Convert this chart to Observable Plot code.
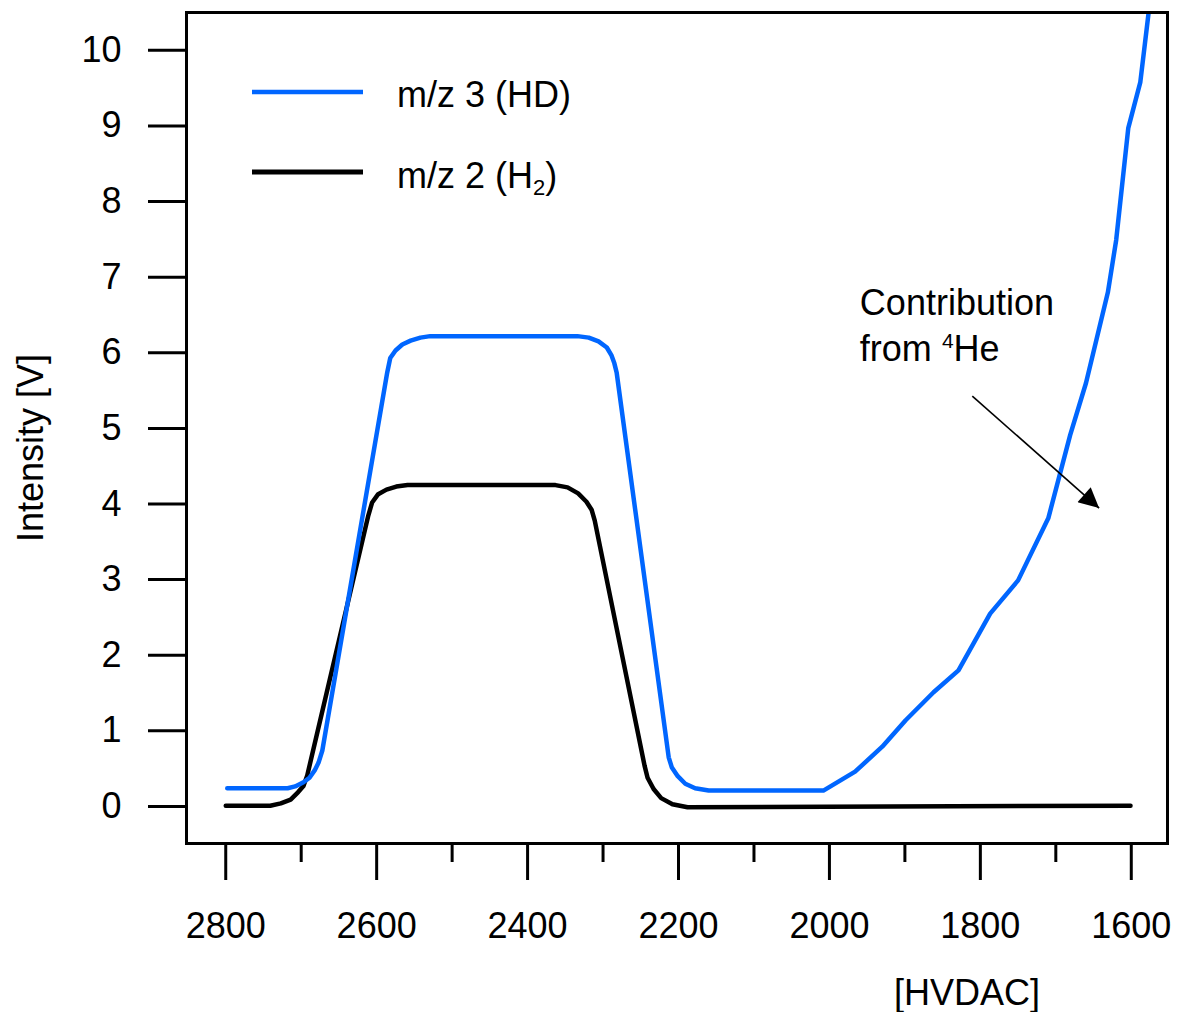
<!DOCTYPE html>
<html>
<head>
<meta charset="utf-8">
<script src="https://cdn.jsdelivr.net/npm/d3@7"></script>
<script src="https://cdn.jsdelivr.net/npm/@observablehq/plot@0.6"></script>
<style>
  body { margin: 0; background: #fff; }
  #chart { width: 1186px; height: 1012px; }
</style>
</head>
<body>
<div id="chart"></div>
<script>
// ---- data ----
const hdX = [2798, 2718, 2708, 2697, 2689, 2682, 2677, 2672, 2586, 2582, 2575, 2566, 2555, 2542, 2529, 2334, 2319, 2306, 2295, 2289, 2285, 2282, 2213, 2209, 2201, 2191, 2178, 2160, 2008, 1966, 1930, 1899, 1862, 1829, 1787, 1750, 1710, 1681, 1660, 1631, 1620, 1604, 1588, 1577];
const hdY = [0.24, 0.24, 0.265, 0.32, 0.38, 0.48, 0.58, 0.74, 5.74, 5.93, 6.03, 6.11, 6.16, 6.20, 6.22, 6.22, 6.20, 6.15, 6.07, 5.97, 5.86, 5.74, 0.65, 0.52, 0.40, 0.30, 0.24, 0.21, 0.21, 0.46, 0.79, 1.14, 1.51, 1.80, 2.55, 2.99, 3.81, 4.91, 5.60, 6.80, 7.49, 8.97, 9.58, 10.5];
const h2X = [2800, 2741, 2727, 2714, 2704, 2697, 2692, 2611, 2606, 2598, 2587, 2574, 2559, 2363, 2347, 2333, 2322, 2315, 2311, 2245, 2241, 2233, 2223, 2208, 2188, 1601];
const h2Y = [0.01, 0.01, 0.04, 0.09, 0.19, 0.27, 0.41, 3.85, 4.02, 4.13, 4.19, 4.23, 4.25, 4.25, 4.22, 4.14, 4.03, 3.92, 3.78, 0.54, 0.38, 0.23, 0.11, 0.03, -0.01, 0.01];
const majorTicks = [2800, 2600, 2400, 2200, 2000, 1800, 1600];
const minorTicks = [2700, 2500, 2300, 2100, 1900, 1700];
const yTicks = [0, 1, 2, 3, 4, 5, 6, 7, 8, 9, 10];
const seriesColors = ["#0066ff", "#000000"];
const xLabel = "[HVDAC]";
const yLabel = "Intensity [V]";

const hd = hdX.map((x, i) => ({x, y: hdY[i]}));
const h2 = h2X.map((x, i) => ({x, y: h2Y[i]}));

const FONT = "'Liberation Sans', Arial, Helvetica, sans-serif";

const plot = Plot.plot({
  width: 1186,
  height: 1012,
  marginLeft: 186,
  marginRight: 19,
  marginTop: 12,
  marginBottom: 169,
  style: {fontFamily: FONT, fontSize: "36px", background: "#fff", color: "#000", overflow: "visible"},
  x: {domain: [2852, 1552]},
  y: {domain: [-0.49, 10.5]},
  marks: [
    Plot.axisY({ticks: yTicks, tickSize: 38, tickPadding: 27, strokeWidth: 3, label: null, fontSize: 36, tickFormat: d => String(d)}),
    Plot.axisX({ticks: majorTicks, tickSize: 37, tickPadding: 32, strokeWidth: 3, label: null, fontSize: 36, tickFormat: d => String(d)}),
    Plot.axisX({ticks: minorTicks, tickSize: 19, strokeWidth: 3, label: null, tickFormat: () => ""}),
    Plot.line(h2, {x: "x", y: "y", stroke: seriesColors[1], strokeWidth: 4.5, clip: true}),
    Plot.line(hd, {x: "x", y: "y", stroke: seriesColors[0], strokeWidth: 4.5, clip: true}),
    Plot.frame({stroke: "#000", strokeWidth: 3})
  ]
});

document.getElementById("chart").appendChild(plot);

// ---- annotations, legend, axis titles ----
const svg = d3.select(plot);
const sx = plot.scale("x"), sy = plot.scale("y");

const defs = svg.append("defs");
defs.append("marker")
  .attr("id", "arrowhead")
  .attr("viewBox", "0 0 10 10")
  .attr("refX", 10).attr("refY", 5)
  .attr("markerUnits", "userSpaceOnUse")
  .attr("markerWidth", 24).attr("markerHeight", 20)
  .attr("orient", "auto")
  .append("path").attr("d", "M0,0 L10,5 L0,10 Z").attr("fill", "#000");

const g = svg.append("g")
  .attr("font-family", FONT).attr("font-size", 36)
  .attr("fill", "#000").attr("text-anchor", "start");

// legend
const legend = [
  {y: 92, color: seriesColors[0], w: 4.5, base: 107, parts: [["m/z 3 (HD)"]]},
  {y: 172, color: seriesColors[1], w: 5, base: 188, parts: [["m/z 2 (H"], ["2", "sub"], [")", "after"]]}
];
legend.forEach(l => {
  g.append("line").attr("x1", 252).attr("x2", 363).attr("y1", l.y).attr("y2", l.y)
    .attr("stroke", l.color).attr("stroke-width", l.w);
  const t = g.append("text").attr("x", 397).attr("y", l.base).attr("text-anchor", "start");
  l.parts.forEach(([s, kind]) => {
    const sp = t.append("tspan").text(s);
    if (kind === "sub") sp.attr("font-size", 22).attr("dy", 7);
    if (kind === "after") sp.attr("dy", -7);
  });
});

// annotation text
const ax = sx.apply(1959), ay = sy.apply(6.49);
g.append("text").attr("x", ax).attr("y", ay).attr("text-anchor", "start").text("Contribution");
const t2 = g.append("text").attr("x", ax).attr("y", ay + 46).attr("text-anchor", "start");
t2.append("tspan").text("from ");
t2.append("tspan").attr("font-size", 21).attr("dy", -13).text("4");
t2.append("tspan").attr("dy", 13).text("He");

// arrow
g.append("line")
  .attr("x1", sx.apply(1810)).attr("y1", sy.apply(5.42))
  .attr("x2", sx.apply(1642)).attr("y2", sy.apply(3.94))
  .attr("stroke", "#000").attr("stroke-width", 1.6)
  .attr("marker-end", "url(#arrowhead)");

// axis titles
g.append("text").attr("x", 967).attr("y", 1005).attr("text-anchor", "middle").text(xLabel);
g.append("text").attr("text-anchor", "middle").attr("dy", "0.35em")
  .attr("transform", "translate(30,448) rotate(-90)").text(yLabel);
</script>
</body>
</html>
